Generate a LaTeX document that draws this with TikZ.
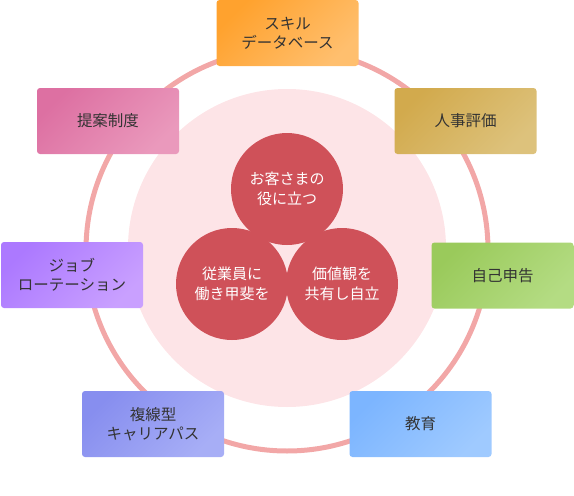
\documentclass[tikz,border=0pt]{standalone}
\usepackage{fontspec}
\setmainfont{Noto Sans CJK JP}
\usetikzlibrary{shapes}

\definecolor{ringpink}{HTML}{F2A7A7}
\definecolor{hatchpink}{HTML}{FDE4E7}
\definecolor{corered}{HTML}{CF5159}
\definecolor{labelgray}{HTML}{333333}
\definecolor{skillA}{HTML}{FFA22E}\definecolor{skillB}{HTML}{FFBF6E}
\definecolor{apprA}{HTML}{D2AA4D}\definecolor{apprB}{HTML}{DDC27C}
\definecolor{selfA}{HTML}{9ACA5B}\definecolor{selfB}{HTML}{B4DC83}
\definecolor{trainA}{HTML}{7CB5FF}\definecolor{trainB}{HTML}{9FCAFF}
\definecolor{careerA}{HTML}{878EEF}\definecolor{careerB}{HTML}{A7AEF6}
\definecolor{rotA}{HTML}{AC79FF}\definecolor{rotB}{HTML}{C9A0FF}
\definecolor{propA}{HTML}{DD70A2}\definecolor{propB}{HTML}{EA99BC}

\begin{document}
\begin{tikzpicture}[x=1pt,y=-1pt,
		item/.style 2 args={rounded corners=3pt, minimum width=142pt, minimum height=66pt,
			inner sep=0pt, align=center, text=labelgray, top color=#1, bottom color=#2,
			shading angle=45, font=\fontsize{15.5}{19}\selectfont},
		core/.style={circle, fill=corered, minimum size=112pt, inner sep=0pt, align=center,
			text=white, font=\fontsize{15}{20}\selectfont}]
			\useasboundingbox (0,0) rectangle (574,496);
			% outer ring and hatched disc
			\draw[ringpink, line width=5pt] (287,250) circle (201);
			\fill[hatchpink] (287,248) circle (159);
			% three values
			\node[core] (serve) at (287,189) {お客さまの\\役に立つ};
			\node[core] (worth) at (232,284) {従業員に\\働き甲斐を};
			\node[core] (share) at (342,284) {価値観を\\共有し自立};
			% measures around the ring
			\node[item={skillA}{skillB}] (skill) at (287.5,33) {スキル\\データベース};
			\node[item={apprA}{apprB}] (appraisal) at (465.5,121) {人事評価};
			\node[item={selfA}{selfB}] (selfreport) at (502.5,275.5) {自己申告};
			\node[item={trainA}{trainB}] (training) at (420.5,424) {教育};
			\node[item={careerA}{careerB}] (career) at (153,424) {複線型\\キャリアパス};
			\node[item={rotA}{rotB}] (rotation) at (72,275) {ジョブ\\ローテーション};
			\node[item={propA}{propB}] (proposal) at (108,121) {提案制度};
		\end{tikzpicture}
\end{document}
